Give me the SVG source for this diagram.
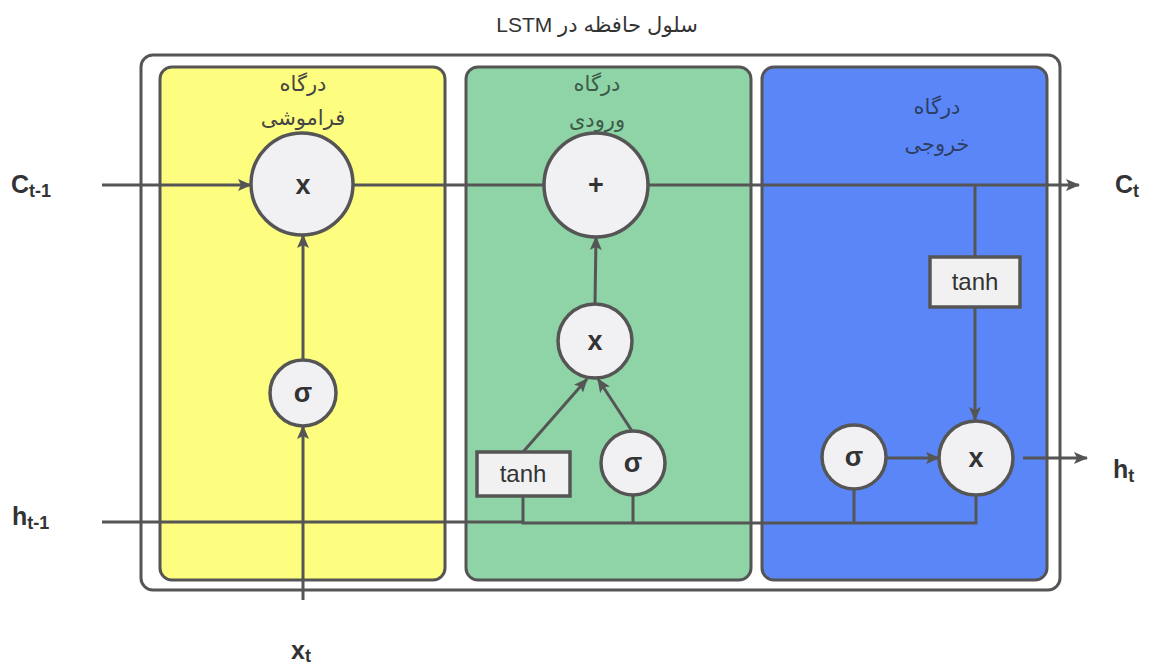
<svg xmlns="http://www.w3.org/2000/svg" width="1152" height="668" viewBox="0 0 1152 668">
  <defs>
    <marker id="arrow" markerUnits="userSpaceOnUse" markerWidth="14" markerHeight="12" refX="13" refY="6" orient="auto">
      <path d="M0,0 L14,6 L0,12 L3,6 z" fill="#555"/>
    </marker>
    <style>
      .panel { stroke: #555; stroke-width: 3; }
      .op { fill: #f1f1f3; stroke: #555; stroke-width: 3.5; }
      .box { fill: #f1f1f1; stroke: #555; stroke-width: 3.5; }
      .wire { fill: none; stroke: #555; stroke-width: 3; }
      .sym { font-family: "Liberation Sans", Arial, sans-serif; font-weight: bold; font-size: 27px; fill: #333; text-anchor: middle; }
      .fn { font-family: "Liberation Sans", Arial, sans-serif; font-size: 24px; fill: #333; text-anchor: middle; }
      .gate { font-family: "Liberation Sans", "DejaVu Sans", sans-serif; font-size: 21px; text-anchor: middle; }
      .io { font-family: "Liberation Sans", Arial, sans-serif; font-weight: bold; font-size: 25px; fill: #333; }
      .sub { font-size: 18px; }
      .title { font-family: "Liberation Sans", "DejaVu Sans", sans-serif; font-size: 21px; fill: #333; text-anchor: middle; }
    </style>
  </defs>

  <rect width="1152" height="668" fill="#ffffff"/>

  <!-- cell frame and title -->
  <g id="cell">
    <rect x="141" y="55" width="919" height="535" rx="12" fill="#ffffff" stroke="#555" stroke-width="3"/>
    <text class="title" x="597" y="32" direction="rtl">سلول حافظه در LSTM</text>
  </g>

  <!-- gate panels -->
  <g id="forget-gate">
    <rect class="panel" x="160" y="67" width="285" height="513" rx="12" fill="#fdfd80"/>
    <text class="gate" x="303" y="91" fill="#444">درگاه</text>
    <text class="gate" x="303" y="125" fill="#444">فراموشی</text>
  </g>
  <g id="input-gate">
    <rect class="panel" x="466" y="67" width="285" height="513" rx="12" fill="#8ed4a6"/>
    <text class="gate" x="597" y="91" fill="#3c5a48">درگاه</text>
    <text class="gate" x="597" y="127" fill="#3c5a48">ورودی</text>
  </g>
  <g id="output-gate">
    <rect class="panel" x="762" y="67" width="285" height="513" rx="12" fill="#5b86f8"/>
    <text class="gate" x="937" y="114" fill="#2e3f66">درگاه</text>
    <text class="gate" x="937" y="151" fill="#2e3f66">خروجی</text>
  </g>

  <!-- connectors -->
  <g id="connectors">
    <!-- cell state path -->
    <line class="wire" x1="102" y1="185" x2="251" y2="185" marker-end="url(#arrow)"/>
    <line class="wire" x1="353" y1="185" x2="544" y2="185"/>
    <line class="wire" x1="648" y1="185" x2="1079" y2="185" marker-end="url(#arrow)"/>
    <line class="wire" x1="975" y1="185" x2="975" y2="257"/>
    <line class="wire" x1="975" y1="307" x2="975" y2="420" marker-end="url(#arrow)"/>
    <!-- input x_t -->
    <line class="wire" x1="303" y1="600" x2="303" y2="426" marker-end="url(#arrow)"/>
    <line class="wire" x1="303" y1="360" x2="303" y2="235" marker-end="url(#arrow)"/>
    <!-- hidden state bus -->
    <line class="wire" x1="102" y1="522" x2="524" y2="522"/>
    <polyline class="wire" points="523,496 523,523 976,523 976,496"/>
    <line class="wire" x1="633" y1="496" x2="633" y2="523"/>
    <line class="wire" x1="854" y1="489" x2="854" y2="523"/>
    <!-- input gate branches -->
    <line class="wire" x1="523" y1="452" x2="587" y2="379" marker-end="url(#arrow)"/>
    <line class="wire" x1="632" y1="431" x2="598" y2="379" marker-end="url(#arrow)"/>
    <line class="wire" x1="595" y1="304" x2="596" y2="237" marker-end="url(#arrow)"/>
    <!-- output gate -->
    <line class="wire" x1="886" y1="458" x2="939" y2="458" marker-end="url(#arrow)"/>
    <line class="wire" x1="1023" y1="458" x2="1087" y2="458" marker-end="url(#arrow)"/>
  </g>

  <!-- operation nodes -->
  <g id="forget-mul">
    <circle class="op" cx="302" cy="184" r="51"/>
    <text class="sym" x="303" y="194">x</text>
  </g>
  <g id="forget-sigma">
    <circle class="op" cx="303" cy="393" r="33"/>
    <text class="sym" x="303" y="402">σ</text>
  </g>
  <g id="cell-add">
    <circle class="op" cx="596" cy="185" r="52"/>
    <text class="sym" x="596" y="194">+</text>
  </g>
  <g id="input-mul">
    <circle class="op" cx="595" cy="341" r="37"/>
    <text class="sym" x="595" y="350">x</text>
  </g>
  <g id="input-tanh">
    <rect class="box" x="477" y="452" width="93" height="44"/>
    <text class="fn" x="523" y="482">tanh</text>
  </g>
  <g id="input-sigma">
    <circle class="op" cx="633" cy="463" r="32"/>
    <text class="sym" x="633" y="472">σ</text>
  </g>
  <g id="output-tanh">
    <rect class="box" x="930" y="257" width="90" height="50"/>
    <text class="fn" x="975" y="290">tanh</text>
  </g>
  <g id="output-sigma">
    <circle class="op" cx="854" cy="457" r="32"/>
    <text class="sym" x="854" y="466">σ</text>
  </g>
  <g id="output-mul">
    <circle class="op" cx="976" cy="458" r="37"/>
    <text class="sym" x="976" y="467">x</text>
  </g>

  <!-- external signals -->
  <g id="label-c-prev">
    <text class="io" x="11" y="193">C<tspan class="sub" dy="4">t-1</tspan></text>
  </g>
  <g id="label-h-prev">
    <text class="io" x="12" y="525">h<tspan class="sub" dy="4">t-1</tspan></text>
  </g>
  <g id="label-c-next">
    <text class="io" x="1115" y="193">C<tspan class="sub" dy="4">t</tspan></text>
  </g>
  <g id="label-h-next">
    <text class="io" x="1113" y="478">h<tspan class="sub" dy="4">t</tspan></text>
  </g>
  <g id="label-x">
    <text class="io" x="291" y="659">x<tspan class="sub" dy="3">t</tspan></text>
  </g>
</svg>
